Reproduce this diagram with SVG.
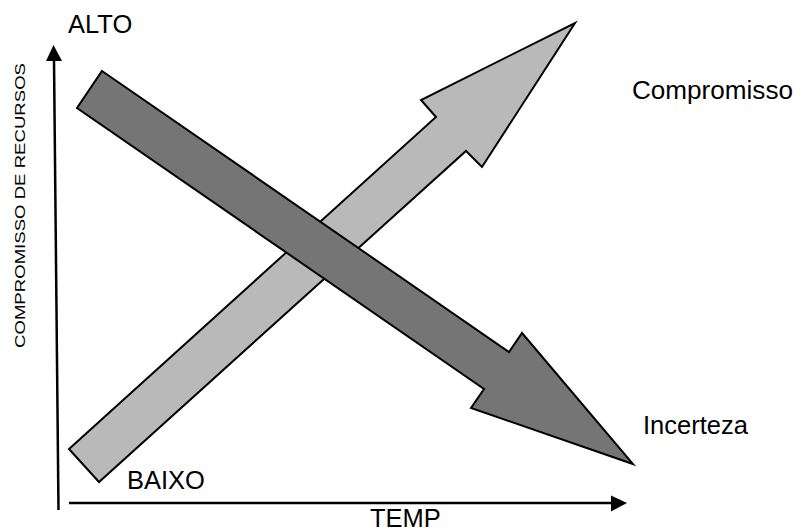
<svg xmlns="http://www.w3.org/2000/svg" width="795" height="531" viewBox="0 0 795 531">
<style>
.lbl{font-family:"Liberation Sans",Arial,sans-serif;font-size:25.5px;fill:#000}
.arr{stroke:#000;stroke-width:2;stroke-linejoin:miter}
</style>
<rect width="795" height="531" fill="#fff"/>
<g id="axes">
<line x1="58.5" y1="510" x2="54" y2="60" stroke="#000" stroke-width="2.5"/>
<polygon points="53.5,45 62,61 46,61" fill="#000"/>
<line x1="69" y1="503" x2="612" y2="503" stroke="#000" stroke-width="2.5"/>
<polygon points="627,503 611,495.5 611,511.5" fill="#000"/>
</g>
<g id="compromisso-arrow">
<polygon class="arr" fill="#b9b9b9" points="69,449 436,117 421,100 575,23 482,167 466,151 99,482"/>
</g>
<g id="incerteza-arrow">
<polygon class="arr" fill="#757575" points="102,71 509,352 522,333 633,464 471,408 484,389 77,108"/>
</g>
<g id="labels">
<text class="lbl" x="68" y="33">ALTO</text>
<text class="lbl" x="127" y="489">BAIXO</text>
<text class="lbl" x="370" y="527" font-size="24">TEMP</text>
<text class="lbl" x="632" y="99" textLength="161" lengthAdjust="spacingAndGlyphs">Compromisso</text>
<text class="lbl" x="643" y="434">Incerteza</text>
<text transform="translate(25,348) rotate(-90)" style="font-family:'Liberation Sans',Arial,sans-serif;font-size:14px" textLength="285" lengthAdjust="spacingAndGlyphs">COMPROMISSO DE RECURSOS</text>
</g>
</svg>
